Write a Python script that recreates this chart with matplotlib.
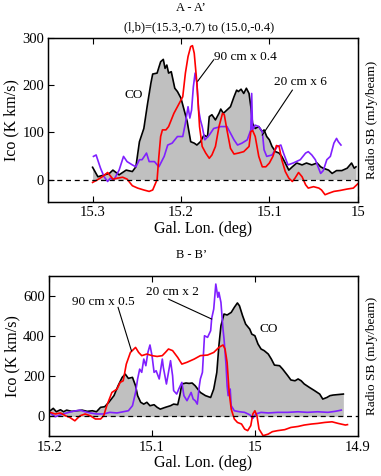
import matplotlib
matplotlib.use("Agg")
import matplotlib.pyplot as plt
import numpy as np

plt.rcParams['font.family'] = ['Liberation Serif', 'DejaVu Serif']
plt.rcParams['mathtext.fontset'] = 'stix'

# ---------------- Panel A - A' ----------------
a_co_lon = [15.300, 15.294, 15.281, 15.277, 15.270, 15.262, 15.255, 15.251, 15.247, 15.242,
            15.238, 15.234, 15.232, 15.227, 15.223, 15.220, 15.218, 15.216, 15.214, 15.211,
            15.207, 15.204, 15.200, 15.197, 15.193, 15.189, 15.185, 15.182, 15.178, 15.174,
            15.170, 15.168, 15.165, 15.161, 15.157, 15.155, 15.152, 15.148, 15.144, 15.140,
            15.137, 15.135, 15.132, 15.129, 15.126, 15.123, 15.121, 15.119, 15.116, 15.112,
            15.108, 15.106, 15.103, 15.100, 15.097, 15.093, 15.089, 15.086, 15.082, 15.078,
            15.074, 15.069, 15.063, 15.058, 15.052, 15.046, 15.042, 15.039, 15.033, 15.029,
            15.024, 15.018, 15.012, 15.007, 15.004, 15.002]
a_co = [26, 6, 13, 20, 10, 20, 17, 27, 80, 108,
        158, 204, 223, 225, 249, 254, 235, 242, 225, 228,
        193, 186, 172, 151, 123, 80, 77, 73, 80, 94,
        90, 133, 137, 126, 140, 149, 140, 147, 154, 175,
        189, 186, 191, 182, 193, 182, 154, 119, 108, 112,
        101, 105, 91, 84, 70, 59, 56, 49, 35, 20,
        27, 35, 31, 35, 31, 35, 27, 24, 20, 13,
        19, 19, 24, 35, 24, 27]

a_90_lon = [15.300, 15.295, 15.289, 15.283, 15.277, 15.272, 15.266, 15.261, 15.255, 15.249,
            15.242, 15.236, 15.232, 15.227, 15.225, 15.223, 15.221, 15.217, 15.214, 15.208,
            15.202, 15.198, 15.195, 15.192, 15.189, 15.187, 15.185, 15.182, 15.179, 15.176,
            15.172, 15.168, 15.165, 15.161, 15.157, 15.153, 15.151, 15.148, 15.144, 15.140,
            15.135, 15.129, 15.123, 15.121, 15.119, 15.116, 15.112, 15.108, 15.104, 15.100,
            15.096, 15.092, 15.089, 15.086, 15.082, 15.078, 15.074, 15.071, 15.067, 15.063,
            15.059, 15.056, 15.050, 15.044, 15.041, 15.037, 15.033, 15.027, 15.020, 15.012,
            15.005, 15.000]
a_90 = [-6, -1, 6, 15, 1, 3, 5, 1, -13, -18,
        -22, -25, -22, 0, 49, 91, 105, 105, 112, 140,
        161, 175, 225, 260, 281, 283, 267, 204, 112, 70,
        56, 45, 52, 70, 112, 140, 137, 105, 66, 54,
        56, 59, 70, 101, 104, 91, 49, 27, 27, 35,
        49, 72, 70, 42, 17, 3, -4, 3, 15, 6,
        -11, -18, -15, -18, -22, -32, -29, -25, -23, -20,
        -18, -9]

a_20_lon = [15.299, 15.296, 15.293, 15.291, 15.287, 15.283, 15.280, 15.276, 15.270, 15.265,
            15.261, 15.255, 15.251, 15.247, 15.244, 15.239, 15.236, 15.230, 15.225, 15.219,
            15.215, 15.210, 15.204, 15.198, 15.195, 15.192, 15.190, 15.188, 15.186, 15.184,
            15.182, 15.180, 15.178, 15.176, 15.173, 15.168, 15.163, 15.155, 15.148, 15.144,
            15.140, 15.136, 15.131, 15.125, 15.121, 15.120, 15.119, 15.116, 15.112, 15.108,
            15.106, 15.103, 15.097, 15.091, 15.087, 15.084, 15.079, 15.073, 15.065, 15.059,
            15.056, 15.052, 15.048, 15.042, 15.039, 15.035, 15.031, 15.027, 15.024, 15.022,
            15.019]
a_20 = [49, 52, 35, 24, 6, -4, 3, -1, 20, 49,
        38, 31, 27, 42, 42, 56, 38, 38, 27, 49,
        73, 77, 91, 91, 119, 154, 130, 147, 196, 225,
        204, 147, 126, 112, 84, 94, 108, 112, 112, 98,
        84, 73, 77, 84, 105, 182, 105, 115, 112, 101,
        63, 49, 52, 70, 73, 56, 31, 35, 42, 56,
        59, 52, 42, 13, 19, 42, 49, 77, 87, 80,
        73]

# ---------------- Panel B - B' ----------------
b_co_lon = [15.199, 15.196, 15.193, 15.189, 15.186, 15.183, 15.178, 15.173, 15.168, 15.163,
            15.158, 15.154, 15.150, 15.146, 15.142, 15.137, 15.133, 15.129, 15.126, 15.123,
            15.119, 15.116, 15.114, 15.111, 15.108, 15.105, 15.102, 15.098, 15.095, 15.092,
            15.087, 15.082, 15.079, 15.075, 15.073, 15.071, 15.067, 15.064, 15.061, 15.058,
            15.053, 15.048, 15.043, 15.040, 15.037, 15.035, 15.033, 15.030, 15.027, 15.023,
            15.020, 15.017, 15.015, 15.012, 15.009, 15.005, 15.003, 15.000, 14.997, 14.994,
            14.991, 14.987, 14.984, 14.981, 14.976, 14.973, 14.968, 14.965, 14.961, 14.958,
            14.955, 14.952, 14.947, 14.942, 14.937, 14.934, 14.930, 14.927, 14.924, 14.914]
b_co = [28, 40, 23, 33, 23, 31, 25, 28, 31, 25,
        28, 23, 45, 48, 70, 103, 152, 194, 210, 189,
        194, 152, 103, 70, 61, 70, 53, 58, 45, 36,
        45, 53, 61, 58, 103, 161, 166, 164, 166, 152,
        119, 103, 94, 136, 219, 351, 451, 509, 504, 517,
        542, 564, 550, 501, 459, 434, 409, 401, 360, 335,
        327, 310, 285, 255, 252, 235, 202, 181, 177, 186,
        177, 161, 144, 128, 111, 86, 94, 103, 106, 111]

b_90_lon = [15.199, 15.194, 15.189, 15.184, 15.180, 15.175, 15.170, 15.165, 15.160, 15.155,
            15.150, 15.147, 15.144, 15.139, 15.134, 15.131, 15.128, 15.125, 15.121, 15.116,
            15.113, 15.110, 15.105, 15.100, 15.095, 15.090, 15.087, 15.084, 15.080, 15.075,
            15.071, 15.066, 15.059, 15.053, 15.046, 15.040, 15.035, 15.031, 15.029, 15.027,
            15.025, 15.023, 15.020, 15.017, 15.013, 15.010, 15.007, 15.004, 15.002, 15.000,
            14.998, 14.996, 14.992, 14.987, 14.983, 14.978, 14.971, 14.965, 14.958, 14.952,
            14.945, 14.939, 14.932, 14.925, 14.919, 14.912, 14.910]
b_90 = [20, 12, 17, 3, -5, -22, 3, 12, 3, -13,
        -13, 3, 53, 119, 136, 169, 177, 260, 318, 343,
        318, 302, 310, 302, 298, 302, 318, 335, 327, 293,
        260, 269, 285, 302, 305, 318, 343, 355, 335, 269,
        119, 36, -13, -30, -38, -63, -71, -46, 12, 28,
        3, -63, -96, -88, -76, -71, -66, -55, -50, -43,
        -38, -35, -30, -27, -35, -43, -41]

b_20_lon = [15.199, 15.194, 15.189, 15.183, 15.177, 15.170, 15.165, 15.160, 15.154, 15.147,
            15.141, 15.134, 15.128, 15.123, 15.119, 15.116, 15.114, 15.112, 15.110, 15.108,
            15.106, 15.104, 15.102, 15.100, 15.098, 15.096, 15.093, 15.090, 15.089, 15.086,
            15.084, 15.082, 15.080, 15.079, 15.076, 15.074, 15.071, 15.069, 15.066, 15.062,
            15.060, 15.058, 15.056, 15.054, 15.053, 15.051, 15.049, 15.046, 15.043, 15.042,
            15.040, 15.038, 15.036, 15.035, 15.033, 15.031, 15.030, 15.028, 15.027, 15.026,
            15.024, 15.023, 15.020, 15.015, 15.010, 15.005, 15.002, 14.999, 14.994, 14.987,
            14.978, 14.968, 14.958, 14.949, 14.939, 14.929, 14.922, 14.916]
b_20 = [17, -2, 8, 17, 25, 31, 23, 17, 12, 12,
        20, 17, 23, 28, 53, 119, 186, 235, 219, 285,
        252, 318, 355, 302, 219, 227, 186, 285, 244, 161,
        219, 277, 202, 128, 111, 136, 169, 103, 78, 119,
        86, 78, 61, 152, 186, 219, 401, 393, 426, 487,
        534, 658, 592, 617, 567, 434, 385, 252, 152, 103,
        136, 53, 28, 23, 20, 8, -10, 12, 20, 17,
        20, 20, 23, 20, 23, 20, 25, 31]

RED = '#ff0000'
PURPLE = '#8020ff'
GRAY = '#c0c0c0'

fig = plt.figure(figsize=(3.81, 4.76), dpi=100)
axA = fig.add_axes([0.127, 0.575, 0.812, 0.346])
axB = fig.add_axes([0.129, 0.083, 0.810, 0.338])


def style(ax):
    ax.tick_params(direction='in', top=True, right=True, length=4, width=0.8,
                   labelsize=10.5, pad=3)
    for s in ax.spines.values():
        s.set_linewidth(1.0)
    ax.set_xlabel('Gal. Lon. (deg)', fontsize=11.5, labelpad=1)
    ax.set_ylabel('Ico (K km/s)', fontsize=11.5, labelpad=2)
    ax2 = ax.twinx()
    ax2.set_yticks([])
    ax2.set_ylabel('Radio SB (mJy/beam)', fontsize=9.5, labelpad=6)


# Panel A
axA.fill_between(a_co_lon, 0, a_co, color=GRAY, lw=0)
axA.plot(a_co_lon, a_co, color='black', lw=1.2)
axA.plot(a_20_lon, a_20, color=PURPLE, lw=1.2)
axA.plot(a_90_lon, a_90, color=RED, lw=1.2)
axA.axhline(0, color='black', lw=0.9, ls=(0, (4, 3)))
axA.set_xlim(15.35, 15.0)
axA.set_ylim(-48, 300)
axA.set_xticks([15.3, 15.2, 15.1, 15.0])
axA.set_xticklabels(['15.3', '15.2', '15.1', '15'])
axA.set_yticks([0, 100, 200, 300])
axA.text(15.253, 179, 'CO', fontsize=9.5, ha='center', va='center')
axA.text(15.127, 260, '90 cm x 0.4', fontsize=9.5, ha='center', va='center')
axA.plot([15.163, 15.181], [253, 208], color='black', lw=0.8)
axA.text(15.065, 207, '20 cm x 6', fontsize=9.5, ha='center', va='center')
axA.plot([15.074, 15.108], [189, 94], color='black', lw=0.8)
style(axA)

# Panel B
axB.fill_between(b_co_lon, 0, b_co, color=GRAY, lw=0)
axB.plot(b_co_lon, b_co, color='black', lw=1.2)
axB.plot(b_20_lon, b_20, color=PURPLE, lw=1.2)
axB.plot(b_90_lon, b_90, color=RED, lw=1.2)
axB.axhline(0, color='black', lw=0.9, ls=(0, (4, 3)))
axB.set_xlim(15.2, 14.9)
axB.set_ylim(-100, 700)
axB.set_xticks([15.2, 15.1, 15.0, 14.9])
axB.set_xticklabels(['15.2', '15.1', '15', '14.9'])
axB.set_yticks([0, 200, 400, 600])
axB.text(14.987, 434, 'CO', fontsize=9.5, ha='center', va='center')
axB.text(15.147, 567, '90 cm x 0.5', fontsize=9.5, ha='center', va='center')
axB.plot([15.133, 15.120], [542, 326], color='black', lw=0.8)
axB.text(15.080, 617, '20 cm x 2', fontsize=9.5, ha='center', va='center')
axB.plot([15.084, 15.042], [583, 484], color='black', lw=0.8)
style(axB)

fig.text(0.502, 1 - 8 / 476, "A - A’", fontsize=9, ha='center', va='center')
fig.text(0.522, 1 - 27 / 476, '(l,b)=(15.3,-0.7) to (15.0,-0.4)', fontsize=9,
         ha='center', va='center')
fig.text(0.502, 1 - 255 / 476, "B - B’", fontsize=9, ha='center', va='center')

fig.savefig('out.png', dpi=100)
